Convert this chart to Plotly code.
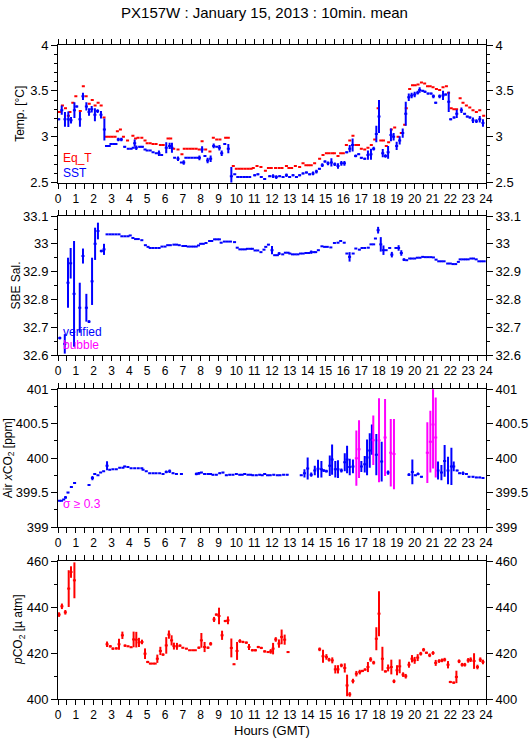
import plotly.graph_objects as go

# ---------------- data (hours GMT) ----------------
eqt_h = [0.08,0.25,0.42,0.58,0.67,0.83,1.0,1.25,1.42,1.58,1.75,1.92,2.08,2.25,2.42,2.58,2.72,2.88,3.04,3.2,3.33,3.5,3.67,3.9,
         4.2,4.35,4.49,4.7,4.88,5.0,5.17,5.33,5.5,5.74,5.9,6.17,6.32,6.49,6.73,6.95,7.08,7.25,7.42,7.58,7.75,7.92,8.08,8.28,
         8.52,8.71,8.9,9.08,9.4,9.55,9.83,10.0,10.17,10.33,10.5,10.67,10.83,10.95,11.16,11.38,11.63,11.8,11.96,12.2,12.4,
         12.56,12.81,12.95,13.1,13.31,13.55,13.74,13.9,14.05,14.2,14.39,14.67,14.86,15.05,15.2,15.37,15.5,15.7,15.85,16.0,
         16.17,16.36,16.54,16.7,16.85,17.01,17.2,17.38,17.57,17.76,17.95,18.1,18.25,18.41,18.54,18.69,18.88,19.07,19.25,
         19.44,19.53,19.72,19.88,20.03,20.19,20.38,20.56,20.72,20.87,21.03,21.22,21.4,21.59,21.78,21.9,22.05,22.2,22.35,
         22.55,22.71,22.9,23.09,23.27,23.46,23.65,23.87]
eqt_v = [3.27,3.34,3.31,3.23,3.27,3.37,3.44,3.28,3.55,3.44,3.36,3.40,3.34,3.37,3.34,3.21,3.00,3.00,3.00,3.00,3.06,3.08,3.00,2.96,
         3.01,2.98,2.99,2.99,2.96,2.93,2.93,2.92,2.92,2.91,2.91,2.98,2.98,2.87,2.86,2.81,2.87,2.87,2.87,2.87,2.87,2.86,2.95,2.86,
         2.84,2.99,2.97,2.97,2.99,2.99,2.68,2.65,2.65,2.65,2.65,2.65,2.65,2.66,2.68,2.67,2.63,2.66,2.66,2.66,2.66,
         2.66,2.68,2.66,2.66,2.68,2.67,2.71,2.69,2.69,2.69,2.71,2.76,2.80,2.82,2.82,2.82,2.82,2.79,2.82,2.82,
         2.91,2.96,3.01,2.91,2.91,2.87,2.86,2.88,2.91,2.97,3.31,2.96,2.96,2.90,2.94,3.08,3.10,3.00,3.04,
         3.13,3.31,3.52,3.56,3.56,3.57,3.59,3.58,3.55,3.55,3.54,3.52,3.51,3.54,3.55,3.48,3.31,3.30,3.30,
         3.42,3.37,3.34,3.32,3.29,3.27,3.29,3.23]

sst_h = [0.04,0.21,0.39,0.58,0.73,0.92,1.05,1.23,1.40,1.59,1.74,1.89,2.07,2.22,2.41,2.60,2.72,2.87,2.97,3.12,3.25,3.38,3.55,3.74,
         3.94,4.10,4.22,4.30,4.39,4.58,4.73,4.88,5.0,5.17,5.33,5.51,5.66,5.81,6.07,6.26,6.39,6.54,6.73,6.92,7.05,7.17,7.33,7.5,
         7.67,7.83,7.93,8.08,8.24,8.39,8.56,8.73,8.90,9.05,9.18,9.35,9.55,9.72,9.91,10.08,10.25,10.42,10.58,10.75,11.03,11.21,
         11.40,11.59,11.87,12.06,12.24,12.43,12.62,12.81,12.99,13.18,13.37,13.55,13.74,13.93,14.11,14.30,14.49,14.66,14.82,
         14.97,15.14,15.33,15.52,15.70,15.89,16.06,16.19,16.36,16.52,16.69,16.86,17.01,17.2,17.38,17.55,17.70,17.85,18.0,
         18.21,18.36,18.51,18.67,18.82,18.99,19.16,19.33,19.5,19.67,19.83,20.0,20.17,20.28,20.45,20.58,20.75,20.92,21.05,
         21.18,21.40,21.59,21.74,21.91,22.02,22.21,22.36,22.62,22.8,22.95,23.1,23.27,23.46,23.65,23.83]
sst_v = [3.19,3.29,3.19,3.19,3.18,3.29,3.33,3.19,3.44,3.33,3.27,3.30,3.24,3.28,3.24,3.08,2.90,2.90,2.92,2.92,2.92,2.97,2.97,2.89,
         2.87,2.87,2.88,2.93,2.88,2.89,2.89,2.86,2.85,2.85,2.83,2.82,2.82,2.80,2.88,2.90,2.88,2.77,2.76,2.72,2.72,2.77,2.77,2.77,
         2.77,2.77,2.77,2.86,2.79,2.74,2.76,2.90,2.89,2.88,2.82,2.92,2.87,2.57,2.59,2.56,2.56,2.56,2.56,2.56,2.58,2.59,
         2.56,2.54,2.57,2.57,2.56,2.57,2.56,2.58,2.56,2.58,2.56,2.58,2.60,2.61,2.59,2.60,2.62,2.65,2.69,
         2.73,2.71,2.72,2.70,2.68,2.71,2.71,2.83,2.87,2.91,2.79,2.81,2.77,2.76,2.80,2.81,2.87,3.03,3.22,
         2.82,2.79,2.83,3.02,3.00,2.90,2.96,3.04,3.25,3.43,3.45,3.46,3.48,3.51,3.50,3.49,3.47,3.47,3.44,
         3.37,3.44,3.45,3.46,3.38,3.19,3.21,3.25,3.29,3.25,3.22,3.21,3.18,3.17,3.19,3.15]
sst_e = [0.01,0.05,0.08,0.085,0.035,0.085,0.01,0.08,0.04,0.045,0.04,0.035,0.07,0.02,0.04,0.12,0,0,0,0,0,0.02,0.02,0.01,
         0,0,0,0.04,0.025,0.01,0.01,0,0,0,0,0,0.03,0,0.06,0.035,0.055,0,0.025,0,0.025,0,0,0,
         0,0,0.025,0.035,0,0.03,0.035,0.025,0,0.03,0.03,0,0.05,0.1,0,0,0,0,0,0,0.01,0.01,
         0,0.01,0.01,0.02,0.02,0.01,0.01,0.02,0.01,0.01,0.01,0.01,0.01,0.01,0.01,0.02,0.02,0.01,0.02,
         0.01,0.02,0.045,0.02,0.03,0.025,0.025,0.01,0.04,0.07,0.015,0.01,0.01,0.01,0.05,0.06,0.02,0.09,0.18,
         0.045,0.02,0.07,0.07,0.04,0.045,0.045,0.05,0.13,0.04,0.03,0.03,0.02,0.03,0.01,0.01,0.01,0.01,0.02,
         0.01,0.02,0.05,0.01,0.11,0.01,0.01,0.045,0.03,0.01,0.01,0.01,0.03,0.02,0.035,0.04]

sal_h = [0.1,0.38,0.56,0.71,0.9,1.22,1.4,1.59,1.74,1.91,2.08,2.24,2.43,2.58,2.75,2.92,3.08,3.25,3.42,3.58,3.75,3.92,4.05,4.2,
         4.35,4.5,4.7,4.9,5.05,5.17,5.33,5.5,5.67,5.83,6.0,6.15,6.3,6.5,6.65,6.8,7.0,7.15,7.3,7.45,7.6,7.75,7.88,8.0,8.15,
         8.3,8.5,8.62,8.78,8.92,9.05,9.15,9.33,9.5,9.67,9.9,10.05,10.2,10.35,10.5,10.62,10.78,10.9,11.05,11.2,11.38,11.55,
         11.65,11.8,12.0,12.15,12.3,12.4,12.6,12.75,12.9,13.0,13.15,13.3,13.45,13.6,13.75,13.9,14.05,14.2,14.35,14.45,14.6,
         14.8,14.95,15.1,15.3,15.5,15.7,15.85,16.05,16.2,16.35,16.55,16.7,16.9,17.05,17.2,17.4,17.55,17.7,17.8,17.95,18.1,
         18.25,18.4,18.6,18.72,18.95,19.1,19.25,19.4,19.55,19.72,19.85,20.0,20.15,20.3,20.45,20.6,20.75,20.9,21.05,21.2,
         21.35,21.5,21.65,21.85,22.0,22.15,22.3,22.45,22.55,22.7,22.85,23.0,23.15,23.3,23.45,23.6,23.75,23.9]
sal_v = [32.661,32.64,32.86,32.93,32.82,32.77,32.956,32.77,32.72,32.865,33.0,33.046,32.974,32.98,33.034,33.034,33.034,33.034,
         33.034,33.027,33.027,33.027,33.03,33.021,33.017,33.017,33.013,32.995,32.989,32.985,32.985,32.985,32.985,32.99,32.99,
         32.995,32.995,32.997,32.997,32.995,32.992,32.992,32.99,32.99,32.99,32.99,32.994,33.0,33.0,33.003,33.01,33.01,33.016,
         33.016,33.016,33.004,33.008,33.008,33.008,33.006,32.986,32.98,32.98,32.98,32.982,32.982,32.982,32.976,32.976,32.97,
         32.979,32.989,32.997,32.977,32.959,32.959,32.965,32.962,32.968,32.968,32.965,32.962,32.962,32.962,32.965,32.965,
         32.967,32.967,32.97,32.97,32.97,32.977,32.991,32.989,32.989,32.987,33.003,33.004,33.01,33.004,32.965,32.953,32.965,
         32.983,32.979,32.985,32.985,32.986,32.998,32.998,33.019,33.049,32.998,32.977,32.977,32.985,32.961,32.985,32.985,
         32.967,32.943,32.941,32.947,32.947,32.947,32.95,32.95,32.953,32.952,32.952,32.952,32.951,32.943,32.937,32.937,
         32.937,32.929,32.929,32.927,32.927,32.935,32.944,32.944,32.944,32.944,32.947,32.947,32.944,32.937,32.937,32.937]
sal_e = [0.005,0.035,0.09,0.055,0.19,0.09,0.027,0.05,0.005,0.085,0.058,0.03,0.005,0.02] + [0]*56 + \
        [0,0,0,0.015,0,0,0.005,0,0,0,0,0,0,0,0,0,0,0,0.006,0,0,0,0,0,0,0,0,0,0,0,0,0.017,0,0,0,0,0,0,0,0,0,0.012,0.026,
         0.017,0,0,0.01,0,0.01,0.01,0.005,0,0,0,0,0,0,0,0,0,0,0,0,0,0,0,0,0,0,0,0,0,0,0,0,0,0,0,0,0,0,0]

xco2_h = [0.08,0.2,0.32,0.42,0.56,0.75,0.93,1.74,1.93,2.06,2.24,2.39,2.56,2.75,2.9,3.08,3.27,3.46,3.64,3.74,3.92,4.1,4.3,4.5,
          4.7,4.77,4.95,5.14,5.33,5.5,5.7,5.89,6.07,6.26,6.45,6.64,6.92,7.76,7.9,8.04,8.22,8.41,8.55,8.69,8.88,9.07,9.25,
          9.44,9.63,9.81,10.0,10.19,10.33,10.47,10.65,10.8,10.93,11.12,11.31,11.45,11.59,11.75,11.9,12.1,12.3,12.45,12.65,
          12.85,13.64,13.82,14.0,14.2,14.4,14.58,14.77,14.9,15.05,15.24,15.37,15.55,15.7,15.89,16.08,16.21,16.36,16.54,
          17.01,17.2,17.33,17.48,17.6,17.85,18.15,18.51,19.68,19.87,20.04,20.19,20.38,21.31,21.5,21.68,21.87,22.06,22.19,
          22.38,22.52,22.71,22.9,23.05,23.27,23.46,23.65,23.83]
xco2_v = [399.38,399.38,399.40,399.43,399.50,399.58,399.64,399.61,399.71,399.77,399.75,399.79,399.81,399.89,399.83,399.84,
          399.84,399.86,399.86,399.88,399.87,399.855,399.855,399.855,399.855,399.83,399.81,399.78,399.78,399.78,399.78,399.77,
          399.80,399.81,399.78,399.77,399.77,399.77,399.78,399.79,399.77,399.77,399.77,399.76,399.76,399.78,399.79,399.75,
          399.76,399.76,399.77,399.76,399.76,399.77,399.76,399.76,399.75,399.75,399.76,399.75,399.77,399.75,399.75,399.76,
          399.75,399.75,399.76,399.76,399.75,399.78,399.85,399.76,399.82,399.845,399.84,399.82,399.81,399.89,399.98,399.84,
          399.84,399.82,399.94,399.98,399.87,399.88,399.88,399.91,400.01,400.11,400.27,400.05,399.95,399.79,399.76,399.80,
          399.75,399.77,399.73,399.82,399.79,399.96,399.82,399.88,399.88,399.82,399.78,399.78,399.77,399.73,399.73,399.72,
          399.72,399.71]
xco2_e = [0,0,0,0.02,0.01,0.01,0.01,0,0.03,0,0,0,0,0.065,0,0,0,0,0,0.01,0,0,0,0,0,0,0,0,0,0,0,0,0.02,0.025,0.01,0.01,0.01,
          0.02,0.02,0.01,0.01,0.01,0,0.01,0,0.01,0.01,0.01,0.01,0,0.01,0.01,0,0.01,0,0,0.01,0.01,0.01,0,0.01,0,0.01,0.01,0,
          0.01,0,0.01,0.01,0.06,0.16,0.03,0.07,0.13,0.12,0.02,0.02,0.15,0.22,0.12,0.13,0.03,0.13,0.2,0.12,0.1,0.08,0.12,0.26,
          0.25,0.22,0.3,0.29,0.03,0.02,0.18,0.01,0.02,0.01,0.13,0.11,0.23,0.2,0.27,0.07,0.01,0.01,0.025,0.01,0.01,0.01,0.01,
          0.01,0.01]

bub_h = [16.73,16.88,17.68,18.0,18.34,18.66,18.84,20.71,20.88,21.03,21.18]
bub_v = [400.0,400.13,400.26,400.26,400.30,400.08,400.06,400.08,400.24,400.49,400.30]
bub_e = [0.40,0.42,0.36,0.61,0.56,0.49,0.51,0.44,0.45,0.64,0.58]

pco2_h = [0.06,0.22,0.41,0.6,0.73,0.92,2.75,2.93,3.08,3.27,3.42,3.61,3.76,3.93,4.1,4.24,4.39,4.54,4.71,4.88,5.03,5.18,5.33,
          5.45,5.57,5.74,5.89,6.07,6.22,6.37,6.5,6.67,6.84,7.0,7.2,7.38,7.55,7.7,7.9,8.04,8.22,8.41,8.56,8.75,8.88,9.03,9.2,
          9.38,9.53,9.72,9.87,10.04,10.2,10.37,10.56,10.71,10.9,11.07,11.23,11.4,11.59,11.78,11.93,12.06,12.21,12.39,12.54,
          12.71,12.9,14.67,14.86,15.05,15.2,15.38,15.55,15.7,15.89,16.08,16.21,16.36,16.54,16.73,16.92,17.07,17.22,17.38,
          17.53,17.7,17.85,18.0,18.19,18.36,18.51,18.69,18.84,19.01,19.16,19.35,19.5,19.68,19.85,20.0,20.17,20.34,20.5,
          20.66,20.84,21.03,21.18,21.37,21.53,21.68,21.87,22.0,22.19,22.34,22.49,22.66,22.81,23.0,23.14,23.33,23.52,23.68,
          23.83]
pco2_v = [436.7,440.3,437.7,448.0,455.2,451.6,423.8,422.9,421.9,422.0,423.8,427.7,423.2,422.9,422.5,425.9,425.8,424.6,424.8,
          419.7,416.1,415.4,415.4,415.4,417.5,420.9,419.3,423.3,428.0,425.5,423.0,422.9,423.2,422.3,421.9,421.2,421.2,421.2,
          422.3,425.5,422.6,422.3,424.0,434.6,436.7,436.1,427.7,433.9,434.2,422.2,415.1,420.9,425.2,424.8,424.5,422.6,421.2,
          421.2,422.6,422.2,420.7,420.4,420.7,421.9,425.9,424.1,427.0,425.8,420.4,421.6,418.6,418.3,417.1,416.8,412.9,412.9,
          414.6,413.5,405.9,402.0,407.8,411.0,411.7,412.2,412.8,413.9,417.2,415.8,426.2,437.1,417.5,412.0,413.5,413.9,407.7,
          412.5,414.2,410.6,409.9,414.9,417.5,416.8,418.0,419.7,421.4,420.1,419.0,420.0,415.7,416.5,416.8,417.1,414.9,407.4,
          407.1,409.6,416.4,414.9,414.9,416.8,417.1,416.5,413.9,417.1,416.1]
pco2_e = [1.0,1.2,1.0,8.0,2.5,7.8,1.2,0.5,0.5,0.5,2.4,1.6,0.5,0.3,0.3,3.4,3.4,2.0,1.0,2.3,0.5,0.3,0,0,1.8,1.8,0.5,3.6,1.8,2.2,
          1.5,1.5,0.5,0.3,0.3,0,0,0,0.5,3.2,2.2,0.5,0.8,1.1,0.5,3.6,2.0,0.5,1.7,4.1,0.3,3.9,0.8,0.5,0.5,1.3,0.5,0.5,0.5,0.5,
          0.5,0.3,1.0,2.5,1.0,1.8,3.2,2.2,0.3,0.8,2.8,1.2,0.8,1.3,1.8,1.8,0.8,2.0,4.7,1.0,1.0,1.2,1.0,0.5,0.5,2.2,1.0,0.8,
          5.0,9.8,5.2,0.5,1.5,3.2,0.8,2.2,3.0,1.0,1.0,1.3,1.6,1.5,1.5,0.8,0.8,0.5,0.8,0.8,1.3,0.8,0.8,0.8,1.6,0.5,0.5,2.7,
          0.8,0.8,0.8,1.0,1.0,3.4,1.0,1.0,1.0]

# ---------------- figure ----------------
BLUE, RED, MAG = "#0000ff", "#ff0000", "#ff00ff"
FONT = "Liberation Sans, Arial, Helvetica, sans-serif"
HW = 0.085  # half width of the 10-min bar, hours
LW = 2

fig = go.Figure()

def add(xs, ys, es, color, xa, ya):
    ey = dict(type="data", array=es, visible=True, thickness=LW, width=0, color=color) if es is not None \
        else dict(visible=False)
    fig.add_trace(go.Scatter(
        x=xs, y=ys, mode="markers", xaxis=xa, yaxis=ya,
        marker=dict(size=1, color=color),
        error_x=dict(type="constant", value=HW, visible=True, thickness=LW, width=0, color=color),
        error_y=ey, showlegend=False, hoverinfo="x+y"))

add(eqt_h, eqt_v, None, RED, "x", "y")
add(sst_h, sst_v, sst_e, BLUE, "x", "y")
add(sal_h, sal_v, sal_e, BLUE, "x2", "y2")
add(xco2_h, xco2_v, xco2_e, BLUE, "x3", "y3")
add(bub_h, bub_v, bub_e, MAG, "x3", "y3")
add(pco2_h, pco2_v, pco2_e, RED, "x4", "y4")

# invisible traces so the right-hand label axes render
for k in range(4):
    fig.add_trace(go.Scatter(x=[None], y=[None], xaxis="x" if k == 0 else "x%d" % (k + 1),
                             yaxis="y%d" % (k + 5), showlegend=False, hoverinfo="skip"))

H = 654.0
doms = [(516.4 / H, 1.0), (344 / H, 483 / H), (172 / H, 309.7 / H), (0.0, 138 / H)]
yranges = [(2.5, 4.0), (32.6, 33.1), (399.0, 401.0), (400.0, 460.0)]
ydt = [0.5, 0.1, 0.5, 20]
ymin = [0.1, 0.05, 0.25, 10]

xtickfont = dict(family=FONT, size=12, color="black")
ytickfont = dict(family=FONT, size=13, color="black")
layout = dict(
    width=529, height=739,
    margin=dict(l=58, r=43, t=45, b=40, autoexpand=False),
    paper_bgcolor="white", plot_bgcolor="white",
    showlegend=False,
    title=dict(text="PX157W : January 15, 2013 : 10min. mean", x=0.5, xref="container", xanchor="center",
               y=1 - 12.5 / 739, yref="container", yanchor="middle",
               font=dict(family=FONT, size=15, color="black")),
    font=dict(family=FONT, size=12, color="black"),
)

for k in range(4):
    xn = "xaxis" if k == 0 else "xaxis%d" % (k + 1)
    yn = "yaxis" if k == 0 else "yaxis%d" % (k + 1)
    yid = "y" if k == 0 else "y%d" % (k + 1)
    xid = "x" if k == 0 else "x%d" % (k + 1)
    layout[xn] = dict(domain=[0, 1], anchor=yid, range=[0, 24], dtick=1, tick0=0, automargin=False,
                      showline=True, linecolor="black", linewidth=1, mirror="ticks",
                      ticks="outside", ticklen=5, tickcolor="black", tickwidth=1,
                      minor=dict(dtick=0.5, ticks="outside", ticklen=5, tickcolor="black"),
                      showgrid=False, zeroline=False, tickfont=xtickfont, fixedrange=True)
    layout[yn] = dict(domain=list(doms[k]), anchor=xid, range=list(yranges[k]), dtick=ydt[k], automargin=False,
                      showline=True, linecolor="black", linewidth=1, mirror=True,
                      ticks="outside", ticklen=6, tickcolor="black",
                      minor=dict(dtick=ymin[k], ticks="outside", ticklen=3, tickcolor="black"),
                      showgrid=False, zeroline=False, tickfont=ytickfont, fixedrange=True)
    layout["yaxis%d" % (k + 5)] = dict(overlaying=yid, side="right", anchor=xid, range=list(yranges[k]),
                                       dtick=ydt[k], showline=False, ticks="outside", ticklen=6,
                                       tickcolor="black", automargin=False,
                                       minor=dict(dtick=ymin[k], ticks="outside", ticklen=3, tickcolor="black"),
                                       showgrid=False, zeroline=False, tickfont=ytickfont, fixedrange=True)

fig.update_layout(**layout)

ann = []
afont = dict(family=FONT, size=12, color="black")
ytitles = ["Temp. [°C]", "SBE Sal.", "Air <i>x</i>CO<sub>2</sub> [ppm]", "<i>p</i>CO<sub>2</sub> [µ atm]"]
xshifts = [-38, -43, -49, -39]
for k in range(4):
    ymid = (doms[k][0] + doms[k][1]) / 2
    ann.append(dict(text=ytitles[k], xref="paper", yref="paper", x=0, y=ymid, xshift=xshifts[k],
                    textangle=-90, showarrow=False, font=afont, xanchor="center", yanchor="middle"))
ann.append(dict(text="Hours (GMT)", xref="paper", yref="paper", x=0.5, y=0, yshift=-31, showarrow=False,
                font=dict(family=FONT, size=13, color="black"), xanchor="center", yanchor="middle"))
lfont = dict(family=FONT, size=12)
ann.append(dict(text="Eq_T", xref="x", yref="y", x=0.15, y=2.765, showarrow=False, xanchor="left",
                yanchor="middle", font=dict(lfont, color=RED)))
ann.append(dict(text="SST", xref="x", yref="y", x=0.15, y=2.607, showarrow=False, xanchor="left",
                yanchor="middle", font=dict(lfont, color=BLUE)))
ann.append(dict(text="verified", xref="x2", yref="y2", x=0.15, y=32.683, showarrow=False, xanchor="left",
                yanchor="middle", font=dict(lfont, color=BLUE)))
ann.append(dict(text="bubble", xref="x2", yref="y2", x=0.15, y=32.635, showarrow=False, xanchor="left",
                yanchor="middle", font=dict(lfont, color=MAG)))
ann.append(dict(text="σ ≥ 0.3", xref="x3", yref="y3", x=0.15, y=399.33, showarrow=False, xanchor="left",
                yanchor="middle", font=dict(lfont, color=MAG)))
fig.update_layout(annotations=ann)

fig.write_html("out.html", config={"displayModeBar": False},
               post_script="document.body.style.margin='0';document.body.style.overflow='hidden';")
